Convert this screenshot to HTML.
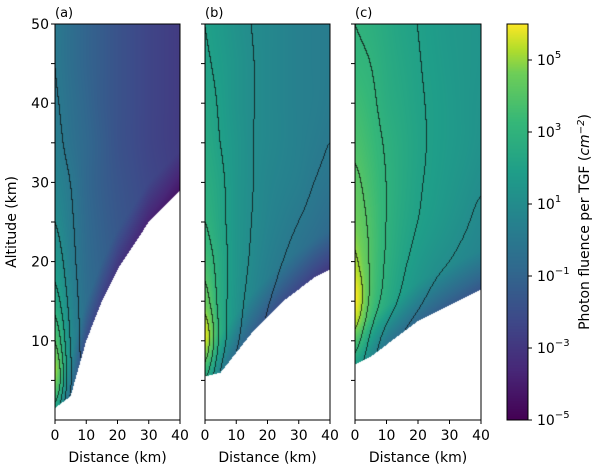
<!DOCTYPE html>
<html><head><meta charset="utf-8"><style>
body{margin:0;background:#fff;}
#root{position:relative;width:600px;height:470px;overflow:hidden;font-family:"DejaVu Sans","Liberation Sans",sans-serif;}
canvas{position:absolute;}
svg{position:absolute;left:0;top:0;}
</style></head><body>
<div id="root">
<canvas id="ca" width="125" height="396" style="left:55px;top:24px"></canvas>
<canvas id="cb" width="125" height="396" style="left:205px;top:24px"></canvas>
<canvas id="cc" width="126" height="396" style="left:355px;top:24px"></canvas>
<canvas id="cbar" width="21" height="396" style="left:507px;top:24px"></canvas>
<svg id="ov" width="600" height="470"></svg>
</div>
<script>
const distances=[0,5,10,15,20,25,30,35,40];
const altitudes=[0,5,10,15,20,25,30,35,40,45,50];
const gridA=[
[3.0,0.5,-0.5,-1.0,-1.4,-1.7,-2.0,-2.2,-2.4],
[5.3,1.2,-0.4,-0.9,-1.3,-1.6,-1.9,-2.1,-2.3],
[4.0,1.0,-0.4,-0.9,-1.3,-1.6,-1.9,-2.1,-2.3],
[2.5,0.7,-0.5,-1.0,-1.4,-1.7,-2.0,-2.2,-2.4],
[1.6,0.4,-0.6,-1.1,-1.5,-1.8,-2.1,-2.3,-2.5],
[1.0,0.2,-0.7,-1.2,-1.6,-1.9,-2.2,-2.4,-2.6],
[0.6,0.0,-0.8,-1.3,-1.7,-2.0,-2.3,-2.5,-2.7],
[0.3,-0.3,-0.8,-1.3,-1.8,-2.1,-2.4,-2.6,-2.8],
[0.1,-0.4,-0.9,-1.4,-1.8,-2.1,-2.4,-2.6,-2.8],
[0.0,-0.5,-1.0,-1.4,-1.8,-2.1,-2.4,-2.6,-2.8],
[0.0,-0.5,-1.0,-1.4,-1.8,-2.1,-2.4,-2.6,-2.8]];
const gridB=[
[2.0,1.0,0.0,-0.5,-1.0,-1.5,-2.0,-2.4,-2.8],
[4.0,1.8,0.5,-0.2,-0.8,-1.4,-1.9,-2.3,-2.7],
[5.8,2.7,1.2,0.4,-0.3,-1.0,-1.5,-2.0,-2.4],
[4.5,2.6,1.4,0.7,0.1,-0.4,-0.9,-1.4,-1.8],
[3.6,2.5,1.5,0.9,0.4,0.0,-0.4,-0.8,-1.2],
[3.0,2.3,1.5,1.0,0.6,0.3,0.0,-0.3,-0.6],
[2.7,2.2,1.5,1.05,0.7,0.5,0.3,0.0,-0.2],
[2.5,2.0,1.5,1.05,0.8,0.6,0.4,0.2,0.0],
[2.3,1.9,1.4,1.05,0.8,0.6,0.4,0.3,0.15],
[2.1,1.8,1.4,1.05,0.8,0.6,0.4,0.3,0.2],
[2.0,1.7,1.3,1.0,0.8,0.6,0.4,0.3,0.2]];
const gridC=[
[2.0,1.2,0.4,-0.2,-0.7,-1.1,-1.5,-1.8,-2.1],
[3.0,2.0,1.0,0.3,-0.3,-0.8,-1.2,-1.5,-1.8],
[4.5,2.8,1.6,0.9,0.3,-0.2,-0.6,-0.9,-1.2],
[6.0,3.8,2.6,1.8,1.2,0.7,0.3,0.0,-0.3],
[5.2,3.9,2.9,2.2,1.7,1.3,1.0,0.7,0.5],
[4.6,3.8,3.0,2.4,2.0,1.7,1.4,1.1,0.8],
[4.2,3.6,3.0,2.5,2.1,1.85,1.6,1.35,1.1],
[3.8,3.4,2.9,2.5,2.15,1.9,1.7,1.5,1.3],
[3.5,3.2,2.7,2.4,2.1,1.9,1.7,1.5,1.35],
[3.2,3.0,2.6,2.3,2.05,1.85,1.65,1.5,1.4],
[3.0,2.8,2.5,2.2,2.0,1.8,1.6,1.5,1.4]];
const edgeA=[1.5,3,10,15,19,22,25,27,29];
const edgeB=[5.5,6,8.5,11,13,15,16.5,18,19];
const edgeC=[7,8,9.5,11,12.5,13.5,14.5,15.5,16.5];
const levelsA=[0,1,2,3,4];
const levelsB=[0,1,2,3,4,5];
const levelsC=[1,2,3,4,5];
const xTicks=[0,10,20,30,40];
const yTicks=[10,20,30,40,50];
const yMinor=[5,15,25,35,45];
const cbarExps=[5,3,1,-1,-3,-5];

const VIR=[[68,1,84],[72,40,120],[62,73,137],[49,104,142],[38,130,142],[31,158,137],[53,183,121],[110,206,88],[181,222,43],[253,231,37]];
const VPOS=[0,0.125,0.25,0.375,0.5,0.625,0.75,0.875,0.9375,1];
function vir(t){t=Math.max(0,Math.min(1,t));for(let i=1;i<VPOS.length;i++){if(t<=VPOS[i]){const f=(t-VPOS[i-1])/(VPOS[i]-VPOS[i-1]);const a=VIR[i-1],b=VIR[i];return [a[0]+(b[0]-a[0])*f,a[1]+(b[1]-a[1])*f,a[2]+(b[2]-a[2])*f];}}return VIR[9];}
const VMIN=-5,VMAX=6;
function interp1(xs,ys,x){if(x<=xs[0])return ys[0];for(let i=1;i<xs.length;i++)if(x<=xs[i]){const f=(x-xs[i-1])/(xs[i]-xs[i-1]);return ys[i-1]+(ys[i]-ys[i-1])*f;}return ys[ys.length-1];}
function cr(p0,p1,p2,p3,t){return 0.5*((2*p1)+(-p0+p2)*t+(2*p0-5*p1+4*p2-p3)*t*t+(-p0+3*p1-3*p2+p3)*t*t*t);}
function bic(g,d,h){const nx=distances.length,ny=altitudes.length;let j=Math.max(0,Math.min(nx-2,Math.floor(d/5))),i=Math.max(0,Math.min(ny-2,Math.floor(h/5)));const fx=(d-distances[j])/5,fy=(h-altitudes[i])/5;
const G=(r,c)=>g[Math.max(0,Math.min(ny-1,r))][Math.max(0,Math.min(nx-1,c))];const rows=[];for(let r=i-1;r<=i+2;r++)rows.push(cr(G(r,j-1),G(r,j),G(r,j+1),G(r,j+2),fx));return cr(rows[0],rows[1],rows[2],rows[3],fy);}
function draw(id,g,edge,levels){const c=document.getElementById(id),ctx=c.getContext('2d');const W=c.width,H=c.height;const img=ctx.createImageData(W,H);const V=new Float32Array(W*H),M=new Uint8Array(W*H);
for(let y=0;y<H;y++)for(let x=0;x<W;x++){const d=(x+0.5)/W*40,h=(H-0.5-y)/H*50;V[y*W+x]=bic(g,d,h);const e=interp1(distances,edge,d);M[y*W+x]=h>=e?1:0;}
for(let y=0;y<H;y++)for(let x=0;x<W;x++){const k=y*W+x;if(!M[k])continue;const d=(x+0.5)/W*40,h=(H-0.5-y)/H*50;const e=interp1(distances,edge,d);let v=V[k];const dh=h-e;if(dh<5)v-=(1-dh/5)*1.6;let col=vir((v-VMIN)/(VMAX-VMIN));
let line=false;const nb=[];if(x<W-1&&M[k+1])nb.push(V[k+1]);if(y<H-1&&M[k+W])nb.push(V[k+W]);for(const L of levels)for(const n of nb)if((V[k]>=L)!==(n>=L))line=true;
if(line)col=[col[0]*0.25+10,col[1]*0.25+10,col[2]*0.25+10];img.data[k*4]=col[0];img.data[k*4+1]=col[1];img.data[k*4+2]=col[2];img.data[k*4+3]=255;}
ctx.putImageData(img,0,0);}
draw('ca',gridA,edgeA,levelsA);draw('cb',gridB,edgeB,levelsB);draw('cc',gridC,edgeC,levelsC);
(function(){const c=document.getElementById('cbar'),ctx=c.getContext('2d');for(let y=0;y<c.height;y++){const col=vir(1-(y+0.5)/c.height);ctx.fillStyle=`rgb(${col[0]|0},${col[1]|0},${col[2]|0})`;ctx.fillRect(0,y,c.width,1);}})();

const NS='http://www.w3.org/2000/svg';const ov=document.getElementById('ov');
function el(t,a,txt){const e=document.createElementNS(NS,t);for(const k in a)e.setAttribute(k,a[k]);if(txt!==undefined)e.textContent=txt;ov.appendChild(e);return e;}
const TOP=24,BOT=420;
function ys(h){return BOT-h/50*(BOT-TOP);}
const panels=[{l:55,r:180,n:'a'},{l:205,r:330,n:'b'},{l:355,r:481,n:'c'}];
panels.forEach((p,pi)=>{
const fr=el('rect',{x:p.l,y:TOP,width:p.r-p.l,height:BOT-TOP,fill:'none',stroke:'#000','stroke-width':1});

const lab=el('text',{x:p.l,y:17,'font-size':13,fill:'#000'},'('+p.n+')');

xTicks.forEach(v=>{const x=p.l+v/40*(p.r-p.l);el('line',{x1:x,x2:x,y1:BOT,y2:BOT+4,stroke:'#000'});
const t=el('text',{x:x,y:BOT+20,'font-size':14,'text-anchor':'middle'},String(v));});
yTicks.concat(yMinor).forEach(v=>{const y=ys(v);el('line',{x1:p.l-4,x2:p.l,y1:y,y2:y,stroke:'#000'});});
if(pi===0)yTicks.forEach(v=>{const t=el('text',{x:p.l-6,y:ys(v)+5,'font-size':14,'text-anchor':'end'},String(v));});
const xt=el('text',{x:(p.l+p.r)/2,y:462,'font-size':14,'text-anchor':'middle'},'Distance (km)');

});
const yt=el('text',{x:0,y:0,'font-size':14,'text-anchor':'middle',transform:'translate(16,222) rotate(-90)'},'Altitude (km)');

const cf=el('rect',{x:507,y:TOP,width:21,height:BOT-TOP,fill:'none',stroke:'#000'});

cbarExps.forEach(e=>{const y=BOT-(e-VMIN)/(VMAX-VMIN)*(BOT-TOP);el('line',{x1:528,x2:532,y1:y,y2:y,stroke:'#000'});
const t=el('text',{x:537,y:y+5,'font-size':14});const s1=document.createElementNS(NS,'tspan');s1.textContent='10';t.appendChild(s1);
const s2=document.createElementNS(NS,'tspan');s2.setAttribute('dy','-7');s2.setAttribute('font-size','10');s2.textContent=(e<0?'\u2212'+(-e):String(e));t.appendChild(s2);
});
const ct=el('text',{x:0,y:0,'font-size':14,'text-anchor':'middle',transform:'translate(589,222) rotate(-90)'});
ct.innerHTML='Photon fluence per TGF (<tspan font-style="italic">cm</tspan><tspan dy="-5" font-size="10" font-style="italic">\u22122</tspan><tspan dy="5">)</tspan>';

</script>
</body></html>
